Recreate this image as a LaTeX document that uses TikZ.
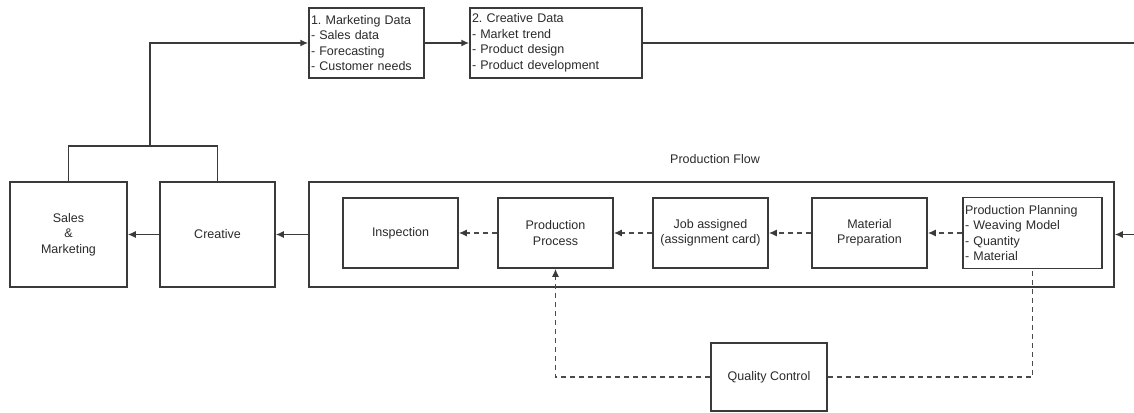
\documentclass[tikz,border=0pt]{standalone}
\usepackage{fontspec}
\setmainfont{Liberation Sans}
\usetikzlibrary{arrows.meta}
\definecolor{ln}{HTML}{3A3A3A}
\definecolor{dln}{HTML}{4A4A4A}
\definecolor{tx}{HTML}{2A2A2A}
\frenchspacing
\begin{document}
\begin{tikzpicture}[x=1pt,y=-1pt,
  every node/.style={font=\fontsize{12.5}{15.5}\selectfont, text=tx},
  box/.style={draw=ln, line width=1.5pt, rectangle, inner sep=0pt, align=center},
  listbox/.style={draw=ln, line width=1.5pt, rectangle, inner xsep=2pt, inner ysep=0pt, align=left},
  conn/.style={draw=ln, line width=1.5pt},
  arr/.style={conn, -{Latex[length=8pt,width=7pt]}},
  dconn/.style={draw=dln, line width=1.5pt, dash pattern=on 5pt off 4pt},
  darr/.style={dconn, -{Latex[length=8pt,width=7pt,color=ln]}}]
\useasboundingbox (0,0) rectangle (1134,412);
% left boxes
\node[box, minimum width=117pt, minimum height=105pt] (sm) at (68.5,234.5) {Sales\\\&\\Marketing};
\node[box, minimum width=115pt, minimum height=105pt] (cr) at (217.5,234.5) {Creative};
% production flow container
\node[box, minimum width=805pt, minimum height=105pt] (flow) at (711.5,234.5) {};
\node (flowlbl) at (715,159) {Production Flow};
% inner boxes
\node[box, minimum width=115pt, minimum height=70pt] (insp) at (400.5,233) {Inspection};
\node[box, minimum width=115pt, minimum height=70pt] (proc) at (555.5,233) {Production\\Process};
\node[box, minimum width=115pt, minimum height=70pt] (job) at (710.5,233) {Job assigned\\(assignment card)};
\node[box, minimum width=115pt, minimum height=70pt] (mat) at (869.5,233) {Material\\Preparation};
\node[listbox, text width=135pt, minimum height=71pt] (plan) at (1032.5,233) {Production Planning\\- Weaving Model\\- Quantity\\- Material};
% top data boxes
\node[listbox, text width=111pt, minimum height=70pt] (md) at (366.5,43) {1. Marketing Data\\- Sales data\\- Forecasting\\- Customer needs};
\node[listbox, text width=168pt, minimum height=70pt] (cd) at (556,43) {2. Creative Data\\- Market trend\\- Product design\\- Product development};
% quality control
\node[box, minimum width=116pt, minimum height=68pt] (qc) at (769,377) {Quality Control};
% coordinates
\coordinate (split) at (150,146);
\coordinate (topright) at (1134,43);
\coordinate (rightin) at (1134,234.5);
% connectors
\draw[conn] (sm.north) |- (split) -| (cr.north);
\draw[arr] (split) |- (md.west);
\draw[arr] (md.east) -- (cd.west);
\draw[conn] (cd.east) -- (topright);
\draw[arr] (rightin) -- (flow.east);
\draw[arr] (flow.west) -- (cr.east);
\draw[arr] (cr.west) -- (sm.east);
\draw[darr] (plan.west) -- (mat.east);
\draw[darr] (mat.west) -- (job.east);
\draw[darr] (job.west) -- (proc.east);
\draw[darr] (proc.west) -- (insp.east);
\draw[darr] (qc.west) -| (proc.south);
\draw[dconn] (qc.east) -| (plan.south);
\end{tikzpicture}
\end{document}
